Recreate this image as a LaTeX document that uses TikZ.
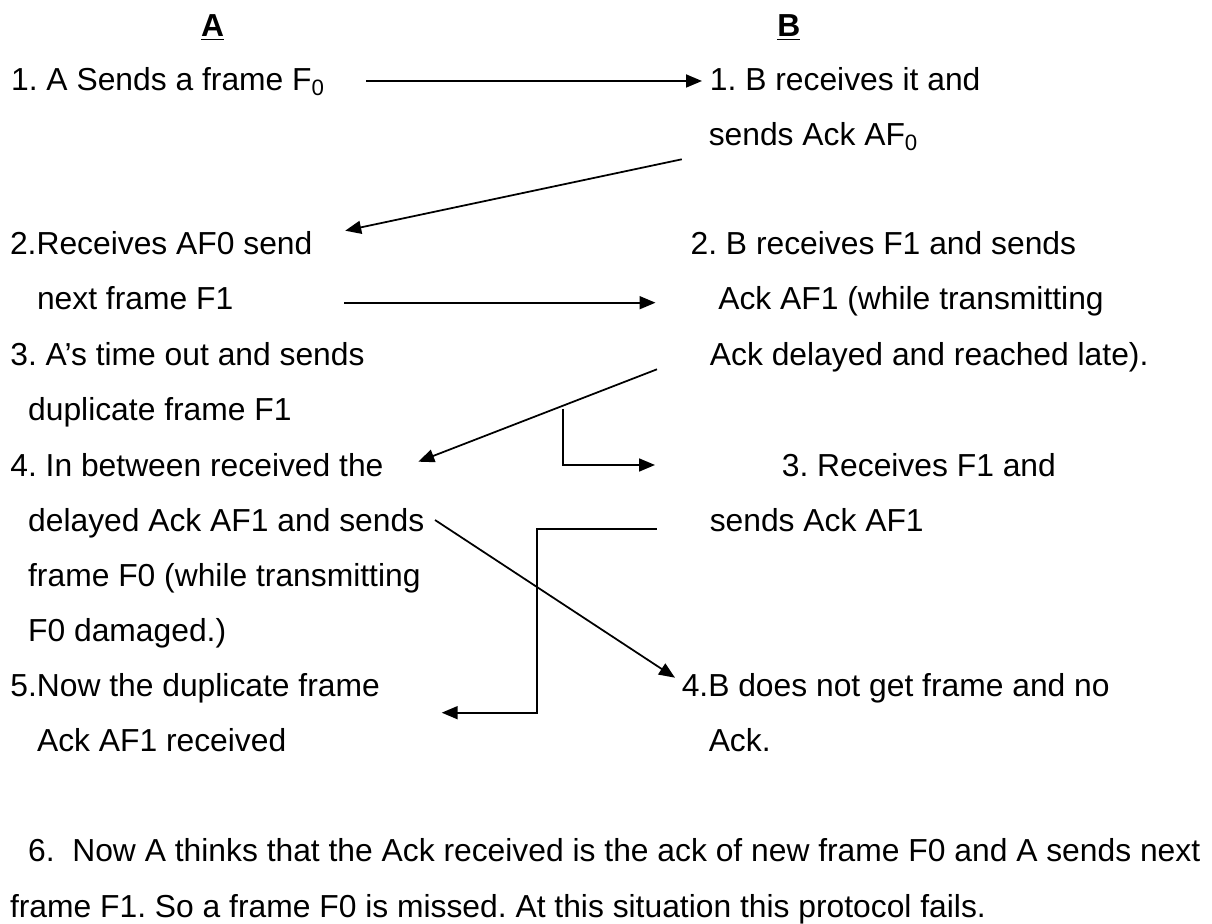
\documentclass[tikz,border=0pt]{standalone}
\usepackage{fontspec}
\setmainfont{Liberation Sans}
\usetikzlibrary{arrows.meta}
\frenchspacing
\begin{document}
\begin{tikzpicture}[x=0.2mm,y=-0.2mm,
txt/.style={anchor=base west,inner sep=0pt,font=\fontsize{18.1}{21}\selectfont},
hd/.style={anchor=base,inner sep=0pt,font=\fontsize{18.1}{21}\selectfont\bfseries},
arr/.style={line width=1pt,-{Triangle[length=3.2mm,width=2.6mm]}}]
\useasboundingbox (0,0) rectangle (1212,924);
\node[hd](ha) at (212.6,37){\underline{A}};
\node[hd](hb) at (788.8,37){\underline{B}};
\node[txt](a1) at (10.8,90.7){1. A Sends a frame F\textsubscript{0}};
\node[txt](b1) at (709.6,90.7){1. B receives it and};
\node[txt](b1b) at (708.4,145.7){sends Ack AF\textsubscript{0}};
\node[txt](a2) at (9.7,255){2.Receives AF0 send};
\node[txt](a2b) at (36.7,310){next frame F1};
\node[txt](b2) at (690.3,255){2. B receives F1 and sends};
\node[txt](b2b) at (718,310){Ack AF1 (while transmitting};
\node[txt](b2c) at (709.6,366){Ack delayed and reached late).};
\node[txt](a3) at (10,366){3. A’s time out and sends};
\node[txt](a3b) at (27.8,420.7){duplicate frame F1};
\node[txt](a4) at (10,476.7){4. In between received the};
\node[txt](a4b) at (27.8,531.7){delayed Ack AF1 and sends};
\node[txt](a4c) at (27.8,586.7){frame F0 (while transmitting};
\node[txt](a4d) at (27.8,641.7){F0 damaged.)};
\node[txt](b3) at (781.5,476.7){3. Receives F1 and};
\node[txt](b3b) at (709.4,531.7){sends Ack AF1};
\node[txt](a5) at (10,696.7){5.Now the duplicate frame};
\node[txt](a5b) at (36.7,752){Ack AF1 received};
\node[txt](b4) at (681.4,696.7){4.B does not get frame and no};
\node[txt](b4b) at (708.4,752){Ack.};
\node[txt](c6) at (27.8,862){6.~~Now A thinks that the Ack received is the ack of new frame F0 and A sends next};
\node[txt](c6b) at (9.7,917){frame F1. So a frame F0 is missed. At this situation this protocol fails.};
\coordinate (f0s) at (366,81);
\coordinate (f0e) at (702,81);
\coordinate (af0s) at (681.8,159.3);
\coordinate (af0e) at (345.2,230.7);
\coordinate (f1s) at (344,302.7);
\coordinate (f1e) at (655.5,302.7);
\coordinate (af1s) at (657,369.3);
\coordinate (af1e) at (418.3,461.7);
\coordinate (dups) at (563.3,409);
\coordinate (dupe) at (655,465);
\coordinate (acks) at (656.7,529);
\coordinate (ackm) at (536.7,712.7);
\coordinate (acke) at (441.7,712.7);
\coordinate (f0bs) at (435,520);
\coordinate (f0be) at (675,677.7);
\draw[arr](f0s)--(f0e);
\draw[arr](af0s)--(af0e);
\draw[arr](f1s)--(f1e);
\draw[arr](af1s)--(af1e);
\draw[arr](dups)|-(dupe);
\draw[arr](acks)-|(ackm)--(acke);
\draw[arr](f0bs)--(f0be);
\end{tikzpicture}
\end{document}
